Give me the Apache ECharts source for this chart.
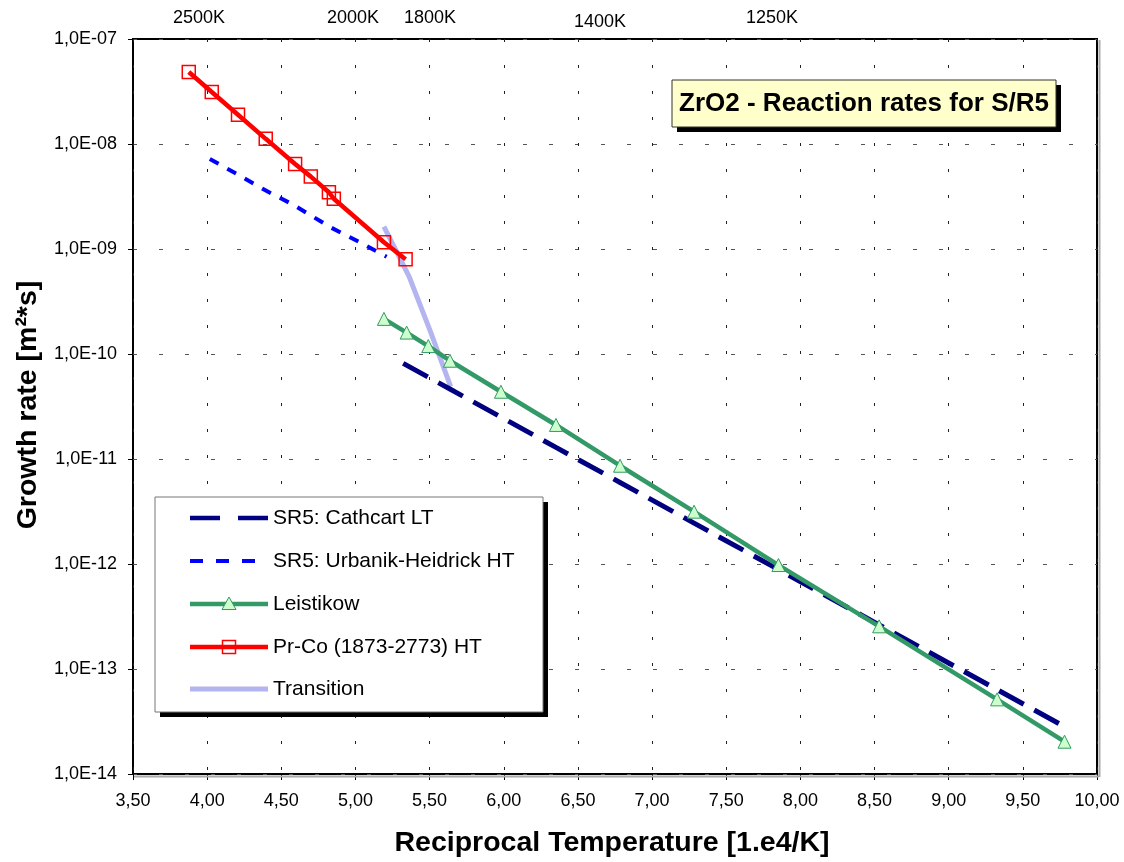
<!DOCTYPE html>
<html>
<head>
<meta charset="utf-8">
<script src="https://cdn.jsdelivr.net/npm/echarts@6/dist/echarts.min.js"></script>
<style>
html,body{margin:0;padding:0;background:#fff;}
#chart{width:1124px;height:862px;}
</style>
</head>
<body>
<div id="chart"></div>
<script>
// ---- data ----
const xTicks = [3.5, 10.0];               // x axis range, step 0.5
const yTicks = [1e-14, 1e-7];              // y axis range (log)
const topLabels = ['2500K', '2000K', '1800K', '1400K', '1250K'];

const cathcartX = [5.322, 5.637, 5.981, 6.352, 6.784, 7.283, 7.852, 8.531, 9.326, 9.793];
const cathcartY = [8.15e-11, 4.64e-11, 2.51e-11, 1.29e-11, 5.98e-12, 2.45e-12, 8.87e-13, 2.63e-13, 6.37e-14, 2.77e-14];

const urbanikX = [4.018, 4.211, 4.402, 4.580, 4.692, 4.832, 5.023, 5.21];
const urbanikY = [7.2e-9, 5.07e-9, 3.56e-9, 2.64e-9, 2.12e-9, 1.61e-9, 1.17e-9, 8.45e-10];

const leistikowX = [5.192, 5.345, 5.491, 5.637, 5.981, 6.352, 6.784, 7.283, 7.852, 8.531, 9.326, 9.781];
const leistikowY = [2.16e-10, 1.60e-10, 1.19e-10, 8.63e-11, 4.37e-11, 2.11e-11, 8.63e-12, 3.15e-12, 9.77e-13, 2.55e-13, 5.14e-14, 2.03e-14];

const prcoX = [3.876, 4.031, 4.208, 4.395, 4.593, 4.699, 4.821, 4.854, 5.192, 5.338];
const prcoY = [4.85e-8, 3.13e-8, 1.90e-8, 1.12e-8, 6.45e-9, 4.89e-9, 3.47e-9, 3.01e-9, 1.16e-9, 7.98e-10];

const transitionX = [5.192, 5.362, 5.502, 5.642];
const transitionY = [1.63e-9, 5.45e-10, 1.69e-10, 4.89e-11];

const seriesNames = ['SR5: Cathcart LT', 'SR5: Urbanik-Heidrick HT', 'Leistikow', 'Pr-Co (1873-2773) HT', 'Transition'];
const titleText = 'ZrO2 - Reaction rates for S/R5';
const xTitle = 'Reciprocal Temperature [1.e4/K]';
const yTitle = 'Growth rate [m\u00b2*s]';

// ---- build ----
const pairs = (xs, ys) => xs.map((x, i) => [x, ys[i]]);
const FONT = '"Liberation Sans", Arial, sans-serif';
const chart = echarts.init(document.getElementById('chart'), null, {renderer: 'canvas'});

const legendRows = [518, 561, 604, 647, 689];
const lx0 = 190, lx1 = 268, lmid = 229;
const legendGraphics = [];
const legendStyles = [
  {stroke: '#000080', lineWidth: 4.5, lineDash: [30, 18]},
  {stroke: '#0000FF', lineWidth: 4, lineDash: [13, 13]},
  {stroke: '#339966', lineWidth: 4.5},
  {stroke: '#FF0000', lineWidth: 4.5},
  {stroke: '#B4B4F0', lineWidth: 5}
];
legendRows.forEach((y, i) => {
  legendGraphics.push({type: 'line', z: 101, shape: {x1: lx0, y1: y, x2: lx1, y2: y}, style: legendStyles[i]});
  legendGraphics.push({type: 'text', z: 101, x: 273, y: y, style: {text: seriesNames[i], font: '21px ' + FONT, fill: '#000', textAlign: 'left', textVerticalAlign: 'middle'}});
});
legendGraphics.push({type: 'polygon', z: 102, shape: {points: [[lmid, legendRows[2] - 7], [lmid + 7, legendRows[2] + 5.5], [lmid - 7, legendRows[2] + 5.5]]}, style: {fill: '#CCFFCC', stroke: '#339966', lineWidth: 1}});
legendGraphics.push({type: 'rect', z: 102, shape: {x: lmid - 6.5, y: legendRows[3] - 6.5, width: 13, height: 13}, style: {fill: 'none', stroke: '#FF0000', lineWidth: 1.5}});

const topPos = [[199, 18], [353, 18], [430, 18], [600, 22], [772, 18]];
const topGraphics = topLabels.map((t, i) => ({type: 'text', x: topPos[i][0], y: topPos[i][1], style: {text: t, font: '18px ' + FONT, fill: '#000', textAlign: 'center', textVerticalAlign: 'middle'}}));

const option = {
  animation: false,
  backgroundColor: '#fff',
  grid: {left: 133, right: 27, top: 39, bottom: 88, show: true, borderColor: '#000', borderWidth: 2, backgroundColor: 'transparent'},
  xAxis: {
    type: 'value', min: xTicks[0], max: xTicks[1], interval: 0.5,
    axisLine: {show: false},
    axisTick: {show: true, length: 6, lineStyle: {color: '#000', width: 1}},
    axisLabel: {margin: 18, color: '#000', fontSize: 18, fontFamily: FONT,
      formatter: v => v.toFixed(2).replace('.', ',')},
    splitLine: {show: true, lineStyle: {color: '#222', width: 1, type: [3, 23]}}
  },
  yAxis: {
    type: 'log', logBase: 10, min: yTicks[0], max: yTicks[1], splitNumber: 7,
    axisLine: {show: false},
    axisTick: {show: true, length: 5, lineStyle: {color: '#000', width: 1}},
    minorTick: {show: false},
    axisLabel: {margin: 16, color: '#000', fontSize: 18, fontFamily: FONT,
      formatter: v => {
        const e = Math.round(Math.log10(v));
        const a = Math.abs(e);
        return '1,0E' + (e < 0 ? '-' : '+') + (a < 10 ? '0' + a : '' + a);
      }},
    splitLine: {show: true, lineStyle: {color: '#555', width: 1, type: [4, 22]}}
  },
  series: [
    {name: seriesNames[4], type: 'line', data: pairs(transitionX, transitionY), symbol: 'none',
      lineStyle: {color: '#B4B4F0', width: 5}, z: 2, silent: true},
    {name: seriesNames[0], type: 'line', data: pairs(cathcartX, cathcartY), symbol: 'none',
      lineStyle: {color: '#000080', width: 5, type: [28, 12]}, z: 3, silent: true},
    {name: seriesNames[1], type: 'line', data: pairs(urbanikX, urbanikY), symbol: 'none',
      lineStyle: {color: '#0000FF', width: 4, type: [10, 10]}, z: 3, silent: true},
    {name: seriesNames[2], type: 'line', data: pairs(leistikowX, leistikowY), symbol: 'triangle', symbolSize: 13,
      itemStyle: {color: '#CCFFCC', borderColor: '#339966', borderWidth: 1},
      lineStyle: {color: '#339966', width: 4.5}, z: 4, silent: true},
    {name: seriesNames[3], type: 'line', data: pairs(prcoX, prcoY), symbol: 'rect', symbolSize: 13,
      itemStyle: {color: 'rgba(0,0,0,0)', borderColor: '#FF0000', borderWidth: 1.5},
      lineStyle: {color: '#FF0000', width: 4.5}, z: 5, silent: true}
  ],
  graphic: [
    // plot frame shadow
    {type: 'line', z: 50, shape: {x1: 134, y1: 776.5, x2: 1099, y2: 776.5}, style: {stroke: '#aaa', lineWidth: 2}},
    {type: 'line', z: 50, shape: {x1: 1099.5, y1: 40, x2: 1099.5, y2: 777}, style: {stroke: '#aaa', lineWidth: 2}},
    // title box
    {type: 'rect', z: 100, shape: {x: 677, y: 85, width: 384, height: 47}, style: {fill: '#000'}},
    {type: 'rect', z: 100, shape: {x: 672, y: 80, width: 384, height: 47}, style: {fill: '#FFFFCC', stroke: '#333', lineWidth: 1}},
    {type: 'text', z: 101, x: 864, y: 104, style: {text: titleText, font: 'bold 26px ' + FONT, fill: '#000', textAlign: 'center', textVerticalAlign: 'middle'}},
    // legend box
    {type: 'rect', z: 100, shape: {x: 160, y: 502, width: 388, height: 215}, style: {fill: '#000'}},
    {type: 'rect', z: 100, shape: {x: 155, y: 497, width: 388, height: 215}, style: {fill: '#fff', stroke: '#777', lineWidth: 1}},
    ...legendGraphics,
    ...topGraphics,
    // axis titles
    {type: 'text', x: 612, y: 843, style: {text: xTitle, font: 'bold 28.5px ' + FONT, fill: '#000', textAlign: 'center', textVerticalAlign: 'middle'}},
    {type: 'text', x: 28, y: 405, rotation: Math.PI / 2, style: {text: yTitle, font: 'bold 28.5px ' + FONT, fill: '#000', textAlign: 'center', textVerticalAlign: 'middle'}}
  ]
};
chart.setOption(option);
</script>
</body>
</html>
